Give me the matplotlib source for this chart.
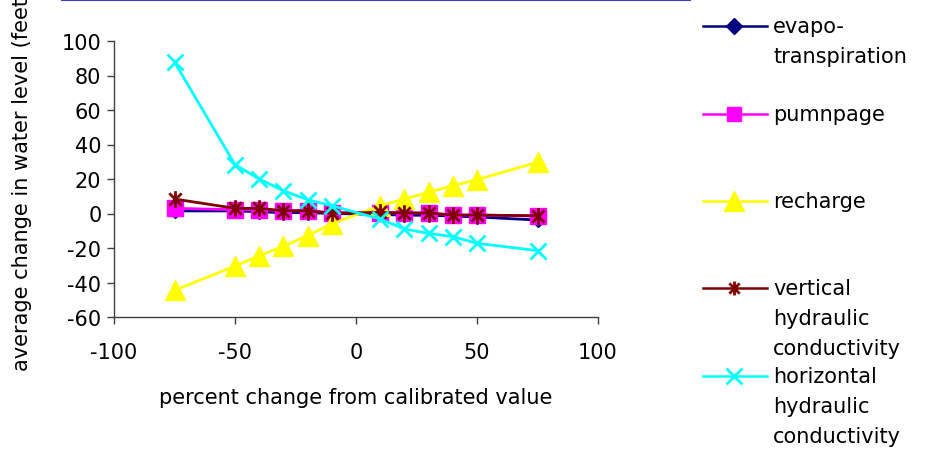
import matplotlib
matplotlib.use("Agg")
import matplotlib.pyplot as plt
from matplotlib.path import Path
from matplotlib.lines import Line2D

plt.rcParams['font.family'] = ['DejaVu Sans']

# ---- data ----
x_pct = [-75, -50, -40, -30, -20, -10, 10, 20, 30, 40, 50, 75]
evapotranspiration = [1.5, 1.5, 1.0, 0.5, 0.5, 0.0, -0.5, -1.0, -1.0, -1.5, -2.0, -3.8]
pumnpage = [3.0, 2.2, 2.2, 1.6, 1.6, 0.5, 0.5, 0.3, 0.3, -0.9, -0.9, -1.5]
recharge = [-44.5, -30.5, -24.5, -19.0, -12.8, -6.0, 4.5, 8.4, 12.3, 16.1, 19.6, 29.7]
vertical_k = [8.4, 3.0, 3.0, 1.6, 1.6, 0.1, 0.7, 0.3, 0.3, -0.9, -0.9, -1.3]
horizontal_k = [87.8, 28.3, 20.0, 13.2, 8.0, 4.5, -3.2, -9.0, -11.5, -13.4, -17.3, -21.5]

series_names = ["evapotranspiration", "pumnpage", "recharge",
                "vertical hydraulic conductivity", "horizontal hydraulic conductivity"]
legend_lines = [["evapo-", "transpiration"], ["pumnpage"], ["recharge"],
                ["vertical", "hydraulic", "conductivity"],
                ["horizontal", "hydraulic", "conductivity"]]
xticks = [-100, -50, 0, 50, 100]
yticks = [-60, -40, -20, 0, 20, 40, 60, 80, 100]

# asterisk marker: X plus vertical bar
star_path = Path(
    [(-1, -1), (1, 1), (-1, 1), (1, -1), (0, -1.35), (0, 1.35)],
    [Path.MOVETO, Path.LINETO, Path.MOVETO, Path.LINETO, Path.MOVETO, Path.LINETO])

styles = [
    dict(color="#000080", marker="D", ms=7, mec="#000080", mfc="#000080", mew=1),
    dict(color="#FF00FF", marker="s", ms=11, mec="#FF00FF", mfc="#FF00FF", mew=1),
    dict(color="#FFFF00", marker="^", ms=15, mec="#FFFF00", mfc="#FFFF00", mew=1),
    dict(color="#800000", marker=star_path, ms=12, mec="#800000", mfc="none", mew=2),
    dict(color="#00FFFF", marker="x", ms=12, mec="#00FFFF", mfc="none", mew=2),
]
legend_ms = [8, 10, 14, 10, 11]
data = [evapotranspiration, pumnpage, recharge, vertical_k, horizontal_k]

W, H = 940, 460
fig = plt.figure(figsize=(W / 100, H / 100), dpi=100)
ax = fig.add_axes([114 / W, 1 - 318 / H, 484 / W, 276 / H])

for ys, st, name in zip(data, styles, series_names):
    ax.plot(x_pct, ys, color=st["color"], lw=2, marker=st["marker"], ms=st["ms"],
            mec=st["mec"], mfc=st["mfc"], mew=st["mew"], zorder=3, label=name,
            solid_joinstyle="round")

ax.set_xlim(-100, 100)
ax.set_ylim(-60, 100)
ax.set_xticks(xticks)
ax.set_yticks(yticks)
ax.set_xticklabels([str(v) for v in xticks])
ax.set_yticklabels([str(v) for v in yticks])
for s in ["top", "right"]:
    ax.spines[s].set_visible(False)
for s in ["left", "bottom"]:
    ax.spines[s].set_color("#404040")
    ax.spines[s].set_linewidth(1.0)
ax.tick_params(axis="both", direction="out", length=5, width=1, color="#404040",
               labelsize=15, labelcolor="black")
ax.tick_params(axis="x", pad=13)
ax.tick_params(axis="y", pad=4)

fig.text(22 / W, 1 - 180 / H, "average change in water level (feet)", rotation=90,
         ha="center", va="center", fontsize=15)
fig.text(356 / W, 1 - 398 / H, "percent change from calibrated value",
         ha="center", va="center", fontsize=15)

# top border line
fig.add_artist(Line2D([62 / W, 690 / W], [1 - 0.8 / H, 1 - 0.8 / H],
                      transform=fig.transFigure, color="#3A3AD0", lw=1.5))

# legend (manual)
legend_y = [27, 115, 202, 289, 377]
for st, lms, lines, yp in zip(styles, legend_ms, legend_lines, legend_y):
    yf = 1 - yp / H
    fig.add_artist(Line2D([703 / W, 734 / W, 767 / W], [yf, yf, yf],
                          transform=fig.transFigure, color=st["color"], lw=1.8,
                          marker=st["marker"], markevery=[1],
                          ms=lms, mec=st["mec"], mfc=st["mfc"],
                          mew=st["mew"]))
    for k, t in enumerate(lines):
        fig.text(773 / W, 1 - (yp + 30 * k) / H, t, ha="left", va="center",
                 fontsize=15)

fig.savefig("out.png", dpi=100)
